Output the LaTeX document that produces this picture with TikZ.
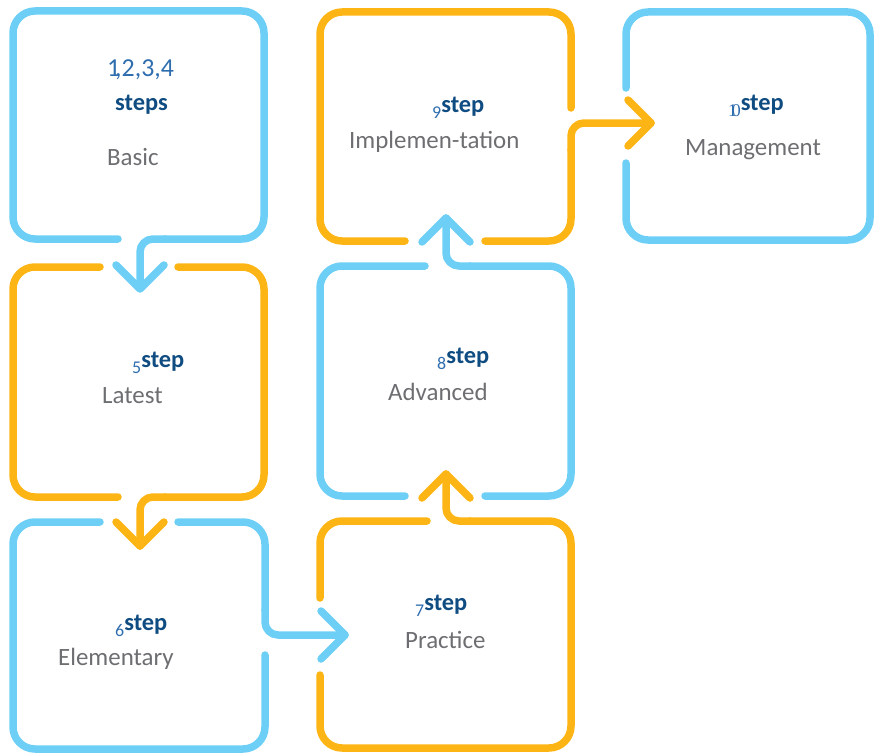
\documentclass[tikz,border=0pt]{standalone}
\usepackage{fontspec}
\setmainfont{Carlito}
\newfontfamily\numserif{Liberation Serif}
\definecolor{lblue}{HTML}{6DCFF6}
\definecolor{lorange}{HTML}{FDB515}
\definecolor{dblue}{HTML}{0F4C81}
\definecolor{nblue}{HTML}{2E6DAE}
\definecolor{tgray}{HTML}{6D6E71}
\tikzset{
  bline/.style={line width=7.5bp, line cap=round, line join=round, rounded corners=22bp},
  sline/.style={line width=7.5bp, line cap=round, line join=round, rounded corners=13bp},
  chev/.style={line width=7.5bp, line cap=round, line join=round},
  wtext/.style={anchor=base west, inner sep=0pt, text=tgray, font=\fontsize{25}{28}\selectfont},
  stext/.style={anchor=base west, inner sep=0pt, text=dblue, font=\fontsize{24.5}{28}\selectfont\bfseries},
}
\newcommand{\subnum}[1]{{\fontsize{18}{18}\selectfont\mdseries\color{nblue}\raisebox{-6bp}{#1}}}
\begin{document}
\begin{tikzpicture}[x=1bp,y=-1bp]
\useasboundingbox (0,0) rectangle (874,753);
% Box 1 (blue)
\draw[bline, lblue] (118,239) -- (13,239) -- (13,11) -- (264,11) -- (264,239) -- (165,239);
\draw[sline, lblue] (165,239) -- (140,239) -- (140,288);
\draw[chev, lblue] (116,265) -- (140,289) -- (164,265);
% Box 2 (orange)
\draw[bline, lorange] (100,267) -- (13,267) -- (13,497) -- (118,497);
\draw[bline, lorange] (178,267) -- (264,267) -- (264,497) -- (165,497);
\draw[sline, lorange] (165,497) -- (140,497) -- (140,546);
\draw[chev, lorange] (116,522) -- (140,546) -- (164,522);
% Box 3 (blue)
\draw[bline, lblue] (100,522) -- (13,522) -- (13,749) -- (265,749) -- (265,655);
\draw[bline, lblue] (178,522) -- (265,522) -- (265,610);
\draw[sline, lblue] (265,610) -- (265,635) -- (345,635);
\draw[chev, lblue] (321,611) -- (345,635) -- (321,659);
% Box 4 (orange)
\draw[bline, lorange] (427,521) -- (320,521) -- (320,598);
\draw[bline, lorange] (320,675) -- (320,748) -- (571,748) -- (571,521) -- (470,521);
\draw[sline, lorange] (470,521) -- (446,521) -- (446,474);
\draw[chev, lorange] (422,498) -- (446,474) -- (470,498);
% Box 5 (blue)
\draw[bline, lblue] (425,266) -- (320,266) -- (320,496) -- (405,496);
\draw[bline, lblue] (485,496) -- (571,496) -- (571,266) -- (470,266);
\draw[sline, lblue] (470,266) -- (446,266) -- (446,218);
\draw[chev, lblue] (422,242) -- (446,218) -- (470,242);
% Box 6 (orange)
\draw[bline, lorange] (405,241) -- (320,241) -- (320,12) -- (571,12) -- (571,108);
\draw[bline, lorange] (485,241) -- (571,241) -- (571,150);
\draw[sline, lorange] (571,150) -- (571,123) -- (651,123);
\draw[chev, lorange] (628,100) -- (651,123) -- (628,146);
% Box 7 (blue)
\draw[bline, lblue] (626,88) -- (626,12) -- (870,12) -- (870,240) -- (626,240) -- (626,163);
% Texts
\node[anchor=base west, inner sep=0pt, text=nblue, font=\fontsize{26}{28}\selectfont] (n1) at (107,77) {1\kern-0.2em,2,3,4};
\node[stext] (s1) at (115,110) {steps};
\node[wtext] (w1) at (107,165) {Basic};
\node[stext] (s2) at (132,367) {\subnum{5}step};
\node[wtext] (w2) at (102,403) {Latest};
\node[stext] (s3) at (115,630) {\subnum{6}step};
\node[wtext] (w3) at (58,665) {Elementary};
\node[stext] (s4) at (415,610) {\subnum{7}step};
\node[wtext] (w4) at (405,648) {Practice};
\node[stext] (s5) at (437,363) {\subnum{8}step};
\node[wtext] (w5) at (388,400) {Advanced};
\node[stext] (s6) at (432,112) {\subnum{9}step};
\node[wtext] (w6) at (349,148) {Implemen-tation};
\node[stext] (s7) at (728,110) {{\fontsize{18}{18}\selectfont\mdseries\numserif\color{nblue}\raisebox{-6bp}{1\kern-0.3em0}}step};
\node[wtext] (w7) at (685,155) {Management};
\end{tikzpicture}
\end{document}
